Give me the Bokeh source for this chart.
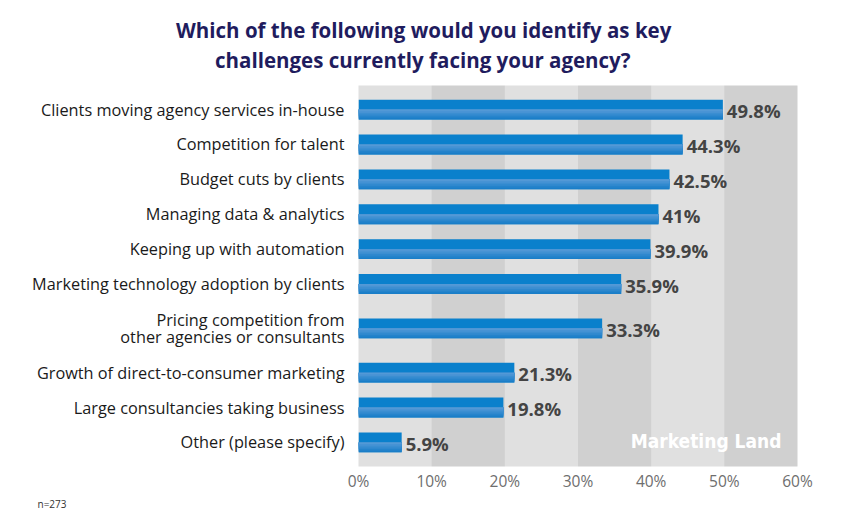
from bokeh.plotting import figure
from bokeh.models import Range1d, FixedTicker, Label, ColumnDataSource, Title
from bokeh.embed import file_html
from bokeh.resources import INLINE

# ---- data ----
categories = [
    "Clients moving agency services in-house",
    "Competition for talent",
    "Budget cuts by clients",
    "Managing data & analytics",
    "Keeping up with automation",
    "Marketing technology adoption by clients",
    "Pricing competition from\nother agencies or consultants",
    "Growth of direct-to-consumer marketing",
    "Large consultancies taking business",
    "Other (please specify)",
]
values = [49.8, 44.3, 42.5, 41, 39.9, 35.9, 33.3, 21.3, 19.8, 5.9]
value_labels = ["49.8%", "44.3%", "42.5%", "41%", "39.9%", "35.9%", "33.3%", "21.3%", "19.8%", "5.9%"]
x_ticks = [0, 10, 20, 30, 40, 50, 60]
x_tick_labels = ["0%", "10%", "20%", "30%", "40%", "50%", "60%"]
title_lines = ["Which of the following would you identify as key",
               "challenges currently facing your agency?"]
note = "n=273"
watermark = "Marketing Land"

# ---- layout of rows (two-line labels get taller rows) ----
ROW = 100
EXTRA = 54
PAD = 19
BAR_H = 57
ys = []
cum = 0
for c in categories:
    h = ROW + EXTRA * (c.count("\n"))
    ys.append(-(cum + h // 2))
    cum += h
total = cum

W, H = 836, 512
FL, FR, FT, FB = 358, 797, 85, 466
p = figure(width=W, height=H, output_backend="svg", toolbar_location=None,
           x_range=Range1d(0, 60), y_range=Range1d(-(total + PAD), PAD),
           min_border_left=FL, min_border_right=W - FR, min_border_top=FT,
           min_border_bottom=H - FB)
p.outline_line_color = None
p.background_fill_color = "#e0e0e0"
p.border_fill_color = "white"

# grid bands
p.xgrid.ticker = FixedTicker(ticks=x_ticks)
p.xgrid.grid_line_color = None
p.xgrid.band_fill_color = "#d0d0d0"
p.xgrid.band_fill_alpha = 1.0
p.ygrid.grid_line_color = None

# axes
xa = p.xaxis[0]
xa.ticker = FixedTicker(ticks=x_ticks)
xa.major_label_overrides = {t: l for t, l in zip(x_ticks, x_tick_labels)}
xa.axis_line_color = None
xa.major_tick_line_color = None
xa.minor_tick_line_color = None
xa.major_tick_out = 0
xa.major_tick_in = 0
xa.minor_tick_out = 0
xa.major_label_text_font = "Open Sans"
xa.major_label_text_font_size = "15.5px"
xa.major_label_text_color = "#6e6e6e"
xa.major_label_standoff = 3

ya = p.yaxis[0]
ya.ticker = FixedTicker(ticks=ys)
ya.major_label_overrides = {y: c for y, c in zip(ys, categories)}
ya.axis_line_color = None
ya.major_tick_line_color = None
ya.minor_tick_line_color = None
ya.major_tick_out = 0
ya.major_tick_in = 0
ya.minor_tick_out = 0
ya.major_label_text_font = "Open Sans"
ya.major_label_text_font_size = "16.3px"
ya.major_label_text_color = "#1a1a1a"
ya.major_label_text_line_height = 0.8
ya.major_label_standoff = 14

# bars: solid full bar, then layered gradient for the lower half
src = ColumnDataSource(dict(y=ys, v=values, lab=value_labels))
p.hbar(y="y", right="v", left=0, height=BAR_H, source=src,
       fill_color="#0a80cc", line_color=None)
grad = ["#1a7ec8", "#2483cb", "#2f88ce", "#3b8ed1", "#4793d4", "#5399d6"]
n = len(grad)
half = BAR_H / 2
for i, col in enumerate(grad):
    depth = half * (n - i) / n
    s = ColumnDataSource(dict(y=[y - depth / 2 for y in ys], v=values))
    p.hbar(y="y", right="v", left=0, height=depth, source=s,
           fill_color=col, line_color=None)

# value labels
p.text(x="v", y="y", text="lab", source=src, x_offset=4, y_offset=1,
       text_align="left", text_baseline="middle",
       text_font={"value": "Open Sans"}, text_font_style="bold",
       text_font_size="18.5px", text_color="#444444")

# watermark
p.add_layout(Label(x=57.8, y=ys[-1], y_offset=1, text=watermark, text_align="right",
                   text_baseline="middle", text_color="white",
                   text_font="DejaVu Sans Condensed", text_font_style="bold",
                   text_font_size="19px"))

# title: spacer next to the frame, then line 2, then line 1
p.add_layout(Title(text=" ", text_font_size="1px", standoff=9), "above")
p.add_layout(Title(text=title_lines[1], align="left", offset=-143.5, standoff=0,
                   text_color="#1f1c5e", text_font="Open Sans",
                   text_font_style="bold", text_font_size="20.5px"), "above")
p.add_layout(Title(text=title_lines[0], align="left", offset=-182.5, standoff=0,
                   text_color="#1f1c5e", text_font="Open Sans",
                   text_font_style="bold", text_font_size="20.5px"), "above")

# sample size note (below the x axis, far left)
p.add_layout(Title(text=note, align="left", offset=38 - FL - 1, standoff=0,
                   text_color="#333333", text_font="Open Sans",
                   text_font_style="normal", text_font_size="10px"), "below")

open("out.html", "w").write(file_html(p, INLINE))
